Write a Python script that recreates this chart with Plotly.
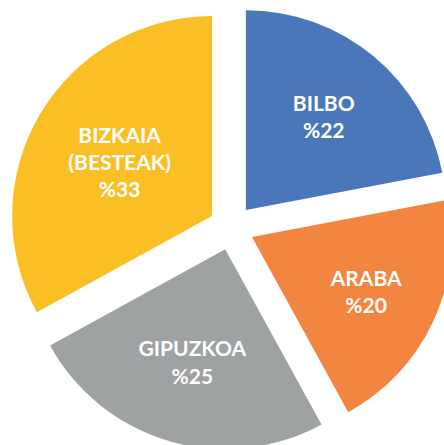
import plotly.graph_objects as go

# Share of each area, clockwise from 12 o'clock
labels = ["BILBO", "ARABA", "GIPUZKOA", "BIZKAIA<br>(BESTEAK)"]
values = [22, 20, 25, 33]
colors = ["#4A77BA", "#F2853F", "#9FA2A3", "#FBBF26"]

fig = go.Figure(go.Pie(
    labels=labels,
    values=values,
    sort=False,
    direction="clockwise",
    rotation=0,
    pull=0.113,
    marker=dict(colors=colors, line=dict(width=0)),
    texttemplate="%{label}<br>%%{value}",
    textposition="inside",
    insidetextorientation="horizontal",
    textfont=dict(family="Lato", size=21, color="white", weight="bold"),
    hoverinfo="label+value",
    showlegend=False,
))

# the pie is larger than the window, so it gets cropped on the right and bottom
fig.update_layout(
    width=470,
    height=470,
    autosize=False,
    margin=dict(l=9, r=470 - 9 - 445, t=5, b=470 - 5 - 445),
    paper_bgcolor="white",
    plot_bgcolor="white",
)

fig.write_html(
    "out.html",
    config={"displayModeBar": False},
    post_script="document.body.style.margin='0';"
                "document.body.style.overflow='hidden';"
                "document.documentElement.style.overflow='hidden';",
)
